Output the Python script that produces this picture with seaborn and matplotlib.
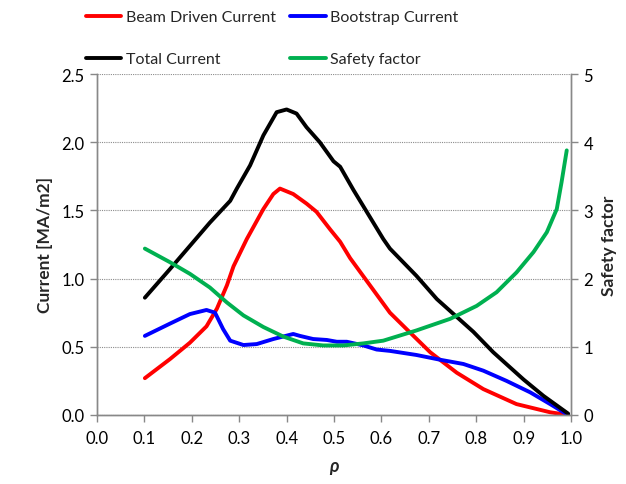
import matplotlib
matplotlib.use("Agg")
import matplotlib.pyplot as plt
import seaborn as sns
import pandas as pd

rho_total = [0.101, 0.154, 0.196, 0.238, 0.281, 0.295, 0.323, 0.351, 0.379, 0.400, 0.421, 0.442,
             0.470, 0.499, 0.513, 0.541, 0.576, 0.604, 0.618, 0.674, 0.717, 0.794, 0.836, 0.900,
             0.942, 0.994]
total = [0.86, 1.07, 1.24, 1.41, 1.57, 1.66, 1.83, 2.05, 2.22, 2.24, 2.21, 2.11,
         2.00, 1.86, 1.82, 1.65, 1.45, 1.29, 1.22, 1.02, 0.85, 0.61, 0.46, 0.26,
         0.14, 0.01]

rho_beam = [0.101, 0.154, 0.196, 0.231, 0.253, 0.274, 0.288, 0.316, 0.351, 0.372, 0.386, 0.414,
            0.442, 0.463, 0.492, 0.513, 0.534, 0.576, 0.618, 0.653, 0.703, 0.759, 0.815, 0.885,
            0.956, 0.994]
beam = [0.27, 0.41, 0.53, 0.65, 0.78, 0.95, 1.09, 1.29, 1.51, 1.62, 1.66, 1.62,
        1.55, 1.49, 1.36, 1.27, 1.15, 0.95, 0.75, 0.63, 0.46, 0.31, 0.19, 0.08,
        0.02, 0.0]

rho_boot = [0.101, 0.154, 0.196, 0.231, 0.249, 0.266, 0.281, 0.309, 0.337, 0.372, 0.414, 0.428,
            0.456, 0.485, 0.506, 0.527, 0.562, 0.590, 0.618, 0.674, 0.724, 0.773, 0.815, 0.864,
            0.914, 0.956, 0.994]
boot = [0.58, 0.67, 0.74, 0.77, 0.75, 0.63, 0.545, 0.513, 0.52, 0.557, 0.594, 0.58,
        0.557, 0.55, 0.537, 0.537, 0.51, 0.48, 0.47, 0.44, 0.405, 0.374, 0.325, 0.25,
        0.166, 0.08, 0.0]

rho_q = [0.101, 0.154, 0.196, 0.238, 0.274, 0.309, 0.351, 0.393, 0.435, 0.477, 0.520, 0.562,
         0.604, 0.674, 0.745, 0.801, 0.843, 0.885, 0.921, 0.949, 0.970, 0.980, 0.991]
q = [2.44, 2.24, 2.07, 1.87, 1.65, 1.46, 1.29, 1.15, 1.05, 1.02, 1.02, 1.05,
     1.09, 1.24, 1.41, 1.60, 1.80, 2.09, 2.39, 2.68, 3.02, 3.41, 3.88]

x_ticks = [0.0, 0.1, 0.2, 0.3, 0.4, 0.5, 0.6, 0.7, 0.8, 0.9, 1.0]
y_ticks = [0.0, 0.5, 1.0, 1.5, 2.0, 2.5]
q_ticks = [0, 1, 2, 3, 4, 5]

sns.set_style("white")
plt.rcParams['font.family'] = ['Lato', 'DejaVu Sans']

fig = plt.figure(figsize=(6.26, 4.85), dpi=100)
ax = fig.add_axes([97/626, 1-416/485, (571-97)/626, (416-75)/485])
ax2 = ax.twinx()

lw = 2.8
kw = dict(lw=lw, legend=False, solid_joinstyle='round', solid_capstyle='round')
sns.lineplot(x=rho_beam, y=beam, ax=ax, color="#FF0000", label="Beam Driven Current", **kw)
sns.lineplot(x=rho_boot, y=boot, ax=ax, color="#0000FF", label="Bootstrap Current", **kw)
sns.lineplot(x=rho_total, y=total, ax=ax, color="#000000", label="Total Current", **kw)
sns.lineplot(x=rho_q, y=q, ax=ax2, color="#00B050", label="Safety factor", **kw)

ax.set_xlim(0, 1.0)
ax.set_ylim(0, 2.5)
ax2.set_ylim(0, 5)
ax.set_xticks(x_ticks)
ax.set_xticklabels([f"{v:.1f}" for v in x_ticks])
ax.set_yticks(y_ticks)
ax.set_yticklabels([f"{v:.1f}" for v in y_ticks])
ax2.set_yticks(q_ticks)
ax2.set_yticklabels([str(v) for v in q_ticks])

ax.grid(axis='y', color='#8c8c8c', linestyle=(0, (1, 1)), linewidth=0.8)
ax.grid(axis='x', visible=False)
ax2.grid(False)

spc = '#888888'
for a in (ax, ax2):
    for s in a.spines.values():
        s.set_color(spc)
        s.set_linewidth(1.0)
    a.spines['top'].set_visible(False)
    a.tick_params(colors='black', labelsize=12, length=5, width=1.0, direction='out')
    a.tick_params(axis='both', color=spc)
ax.tick_params(axis='x', bottom=True, pad=6)
ax.tick_params(axis='y', left=True, pad=4)
ax2.tick_params(axis='y', right=True, pad=4)

ax.set_ylabel("Current [MA/m2]", fontsize=12.5, fontweight='bold', labelpad=6)
ax2.set_ylabel("Safety factor", fontsize=12.5, fontweight='bold', labelpad=6)
ax.set_xlabel("ρ", fontsize=13, fontweight='bold', fontstyle='italic', labelpad=8)

h1, l1 = ax.get_legend_handles_labels()
h2, l2 = ax2.get_legend_handles_labels()
hd = dict(zip(l1 + l2, h1 + h2))
order = ["Beam Driven Current", "Total Current", "Bootstrap Current", "Safety factor"]
fig.legend([hd[k] for k in order], order, ncol=2, loc='upper left', bbox_to_anchor=(75/626, 1.0),
           frameon=False, fontsize=11.5, handlelength=2.2, handletextpad=0.3,
           columnspacing=0.9, labelspacing=1.75, borderaxespad=0.3)

fig.savefig("out.png", dpi=100)
